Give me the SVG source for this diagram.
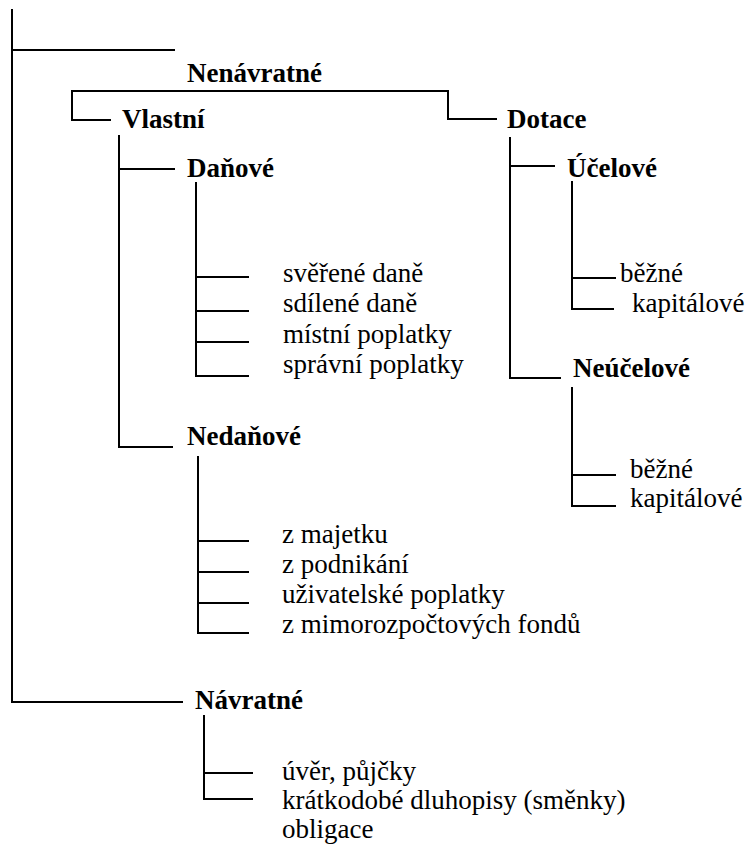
<svg xmlns="http://www.w3.org/2000/svg" width="746" height="845" viewBox="0 0 746 845" font-family="'Liberation Serif', 'Times New Roman', Tinos, 'DejaVu Serif', serif">
<style>
text{font-family:'Liberation Serif','Times New Roman',Tinos,'DejaVu Serif',serif;font-size:27px;fill:#000}
.b{font-weight:bold}
.c{fill:none;stroke:#000;stroke-width:2;stroke-linecap:square}
</style>
<rect width="746" height="845" fill="#fff"/>
<g id="connectors" class="c">
<path d="M12 10V702M12 50H174M12 702H182"/>
<path d="M72 120V91H448V119H496M72 120H110"/>
<path d="M119 136V447H172M119 169H174"/>
<path d="M196 183V376H248M196 277H248M196 311H248M196 342H248"/>
<path d="M198 457V633H248M198 541H248M198 572H248M198 603H248"/>
<path d="M510 138V378H560M510 166H554"/>
<path d="M572 182V309H613M572 278H615"/>
<path d="M572 388V506H615M572 475H615"/>
<path d="M204 716V799H252M204 773H252"/>
</g>
<g id="n-nenavratne"><text class="b" x="187" y="82">Nenávratné</text></g>
<g id="n-vlastni"><text class="b" x="122" y="128">Vlastní</text></g>
<g id="n-dotace"><text class="b" x="507" y="128">Dotace</text></g>
<g id="n-danove"><text class="b" x="187" y="177">Daňové</text></g>
<g id="n-danove-items">
<text x="283" y="282">svěřené daně</text>
<text x="283" y="312">sdílené daně</text>
<text x="283" y="343">místní poplatky</text>
<text x="283" y="373">správní poplatky</text>
</g>
<g id="n-nedanove"><text class="b" x="187" y="445">Nedaňové</text></g>
<g id="n-nedanove-items">
<text x="282" y="543">z majetku</text>
<text x="282" y="573">z podnikání</text>
<text x="282" y="603">uživatelské poplatky</text>
<text x="282" y="633">z mimorozpočtových fondů</text>
</g>
<g id="n-ucelove"><text class="b" x="567" y="177">Účelové</text></g>
<g id="n-ucelove-items">
<text x="620" y="282">běžné</text>
<text x="632" y="312">kapitálové</text>
</g>
<g id="n-neucelove"><text class="b" x="573" y="377">Neúčelové</text></g>
<g id="n-neucelove-items">
<text x="630" y="478">běžné</text>
<text x="630" y="507">kapitálové</text>
</g>
<g id="n-navratne"><text class="b" x="195" y="709">Návratné</text></g>
<g id="n-navratne-items">
<text x="282" y="780">úvěr, půjčky</text>
<text x="282" y="809">krátkodobé dluhopisy (směnky)</text>
<text x="282" y="838">obligace</text>
</g>
</svg>
